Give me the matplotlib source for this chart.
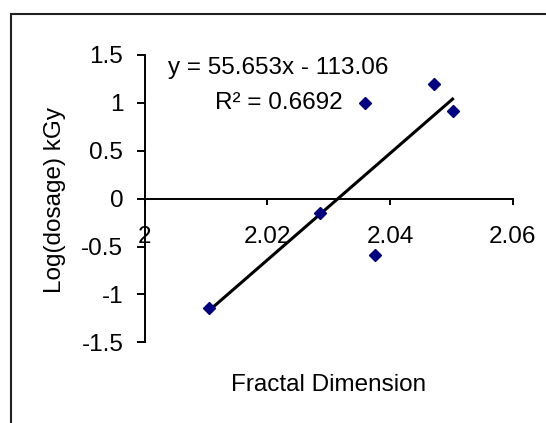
import matplotlib
matplotlib.use("Agg")
import matplotlib.pyplot as plt
from matplotlib.patches import Rectangle
from matplotlib.ticker import FuncFormatter, MultipleLocator
import numpy as np

# data
fractal_dim = [2.0105, 2.0286, 2.0359, 2.0376, 2.0472, 2.0502]
log_dosage = [-1.14, -0.145, 1.00, -0.593, 1.197, 0.913]
slope = 55.653
intercept = -113.06
r_squared = 0.6692

x_ticks = [2.0, 2.02, 2.04, 2.06]
y_ticks = [-1.5, -1.0, -0.5, 0.0, 0.5, 1.0, 1.5]

plt.rcParams["font.family"] = ["Liberation Sans", "DejaVu Sans"]
plt.rcParams["axes.unicode_minus"] = False

FS = 17.5
MARKER = "#000080"

fig = plt.figure(figsize=(5.46, 4.23), dpi=100)
ax = fig.add_axes([0.2648, 0.1908, 0.6742, 0.6792])

ax.plot(fractal_dim, log_dosage, linestyle="none", marker="D", ms=6,
        color=MARKER, mec=MARKER, zorder=3)

xs = np.array([min(fractal_dim), max(fractal_dim)])
ax.plot(xs, slope * xs + intercept, color="black", lw=2.2, zorder=2)

ax.set_xlim(2.0, 2.06)
ax.set_ylim(-1.5, 1.5)
ax.set_xticks(x_ticks)
ax.set_yticks(y_ticks)
fmt = FuncFormatter(lambda v, p: f"{v:g}")
ax.xaxis.set_major_formatter(fmt)
ax.yaxis.set_major_formatter(fmt)

for s in ("top", "right"):
    ax.spines[s].set_visible(False)
ax.spines["bottom"].set_position(("data", 0))
ax.spines["left"].set_bounds(-1.5, 1.5)
for s in ("left", "bottom"):
    ax.spines[s].set_linewidth(1.4)

ax.tick_params(axis="x", direction="out", length=4.5, width=1.4,
               pad=15.5, labelsize=FS, colors="black")
ax.tick_params(axis="y", direction="out", length=5.8, width=1.4,
               pad=9.5, labelsize=FS, colors="black")

ax.set_xlabel("Fractal Dimension", fontsize=FS)
ax.xaxis.label.set_va("center")
ax.xaxis.set_label_coords(0.5, -0.149)
ax.set_ylabel("Log(dosage) kGy", fontsize=FS)
ax.yaxis.label.set_va("center")
ax.yaxis.set_label_coords(-0.243, 0.495)

ax.text(0.362, 0.955, f"y = {slope:.3f}x - {abs(intercept):.2f}",
        transform=ax.transAxes, ha="center", va="center", fontsize=FS)
ax.text(0.364, 0.833, f"R² = {r_squared:.4f}",
        transform=ax.transAxes, ha="center", va="center", fontsize=FS)

# chart area border (right and bottom edges fall outside the image)
fig.add_artist(Rectangle((11 / 546, -0.1), 1.0, 1 - 14 / 423 + 0.1,
                         transform=fig.transFigure, fill=False,
                         lw=1.5, ec="#222222"))

fig.savefig("out.png", dpi=100)
